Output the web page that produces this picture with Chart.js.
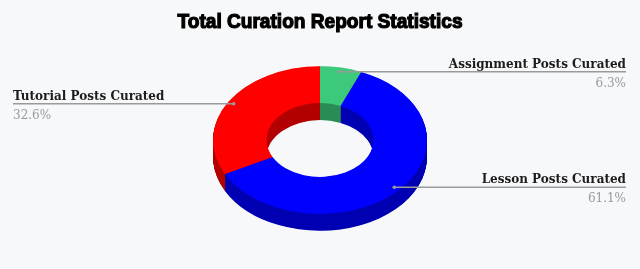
<!DOCTYPE html>
<html>
<head>
<meta charset="utf-8">
<script src="https://cdn.jsdelivr.net/npm/chart.js@4.4.0/dist/chart.umd.min.js"></script>
<style>
  body { margin: 0; background: #f7f8fa; }
  canvas { display: block; }
</style>
</head>
<body>
<canvas id="mycanvas" width="640" height="269"></canvas>
<script>
// chart data
var categories = ['Assignment Posts Curated', 'Lesson Posts Curated', 'Tutorial Posts Curated'];
var shares     = [6.3, 61.1, 32.6];
var chartTitle = 'Total Curation Report Statistics';

// look
var topColors  = ['#3cc97b', '#0000ff', '#ff0000'];
var sideColors = ['#2a8d56', '#0000b3', '#b30000'];
var tilt  = 0.69;   // vertical squash of the ring
var depth = 17;     // thickness of the ring in px

var pie3d = {
  id: 'pie3d',
  beforeDatasetsDraw: function(chart) {
    var ctx = chart.ctx;
    var arcs = chart.getDatasetMeta(0).data;
    var cx = arcs[0].x, cy = arcs[0].y;
    ctx.save();
    ctx.translate(cx, cy);
    ctx.scale(1, tilt);
    ctx.translate(-cx, -cy);
    // extrude the sides by stacking darker copies, deepest first
    for (var d = depth; d > 0; d -= 0.5) {
      arcs.forEach(function(arc, i) {
        var p = arc.getProps(['x', 'y', 'startAngle', 'endAngle', 'innerRadius', 'outerRadius']);
        var y = p.y + d / tilt;
        ctx.beginPath();
        ctx.arc(p.x, y, p.outerRadius, p.startAngle, p.endAngle);
        ctx.arc(p.x, y, p.innerRadius, p.endAngle, p.startAngle, true);
        ctx.closePath();
        ctx.fillStyle = sideColors[i];
        ctx.fill();
      });
    }
  },
  afterDatasetsDraw: function(chart) {
    var ctx = chart.ctx;
    ctx.restore();

    var arcs = chart.getDatasetMeta(0).data;
    var total = shares.reduce(function(a, b) { return a + b; }, 0);
    var area = chart.chartArea;
    var rightEdge = 626, leftEdge = 13;

    arcs.forEach(function(arc, i) {
      var p = arc.getProps(['x', 'y', 'startAngle', 'endAngle', 'outerRadius']);
      var mid = (p.startAngle + p.endAngle) / 2;
      var r = p.outerRadius - 6;
      var ax = p.x + Math.cos(mid) * r;
      var ay = p.y + Math.sin(mid) * r * tilt;
      var right = Math.cos(mid) >= 0;
      var ex = right ? rightEdge : leftEdge;

      // connector
      ctx.strokeStyle = '#9a9a9a';
      ctx.lineWidth = 1.5;
      ctx.beginPath();
      ctx.moveTo(ax, ay);
      ctx.lineTo(ex, ay);
      ctx.stroke();
      ctx.fillStyle = '#9a9a9a';
      ctx.beginPath();
      ctx.arc(ax, ay, 1.8, 0, Math.PI * 2);
      ctx.fill();

      // text
      ctx.textAlign = right ? 'right' : 'left';
      ctx.textBaseline = 'alphabetic';
      ctx.font = 'bold 12px "DejaVu Serif"';
      ctx.fillStyle = '#1c1c1c';
      ctx.fillText(categories[i], ex, ay - 4);
      ctx.font = '12px "DejaVu Serif"';
      ctx.fillStyle = '#999999';
      ctx.fillText((shares[i] / total * 100).toFixed(1) + '%', ex, ay + 15);
    });

    // title, squeezed to the heavy condensed look of the original
    ctx.save();
    ctx.font = 'bold 20px "Liberation Sans"';
    ctx.textAlign = 'center';
    ctx.textBaseline = 'middle';
    var w = ctx.measureText(chartTitle).width;
    ctx.translate(320, 22);
    ctx.scale(285 / w, 1);
    ctx.fillStyle = '#000';
    ctx.strokeStyle = '#000';
    ctx.lineWidth = 1.2;
    ctx.fillText(chartTitle, 0, 0);
    ctx.strokeText(chartTitle, 0, 0);
    ctx.restore();
  }
};

new Chart(document.getElementById('mycanvas'), {
  type: 'doughnut',
  data: {
    labels: categories,
    datasets: [{
      data: shares,
      backgroundColor: topColors,
      borderWidth: 0,
      hoverOffset: 0
    }]
  },
  options: {
    responsive: false,
    animation: false,
    events: [],
    cutout: '50%',
    layout: { padding: { top: 33, bottom: 22 } },
    plugins: {
      legend: { display: false },
      title: { display: false },
      tooltip: { enabled: false }
    }
  },
  plugins: [pie3d]
});
</script>
</body>
</html>
